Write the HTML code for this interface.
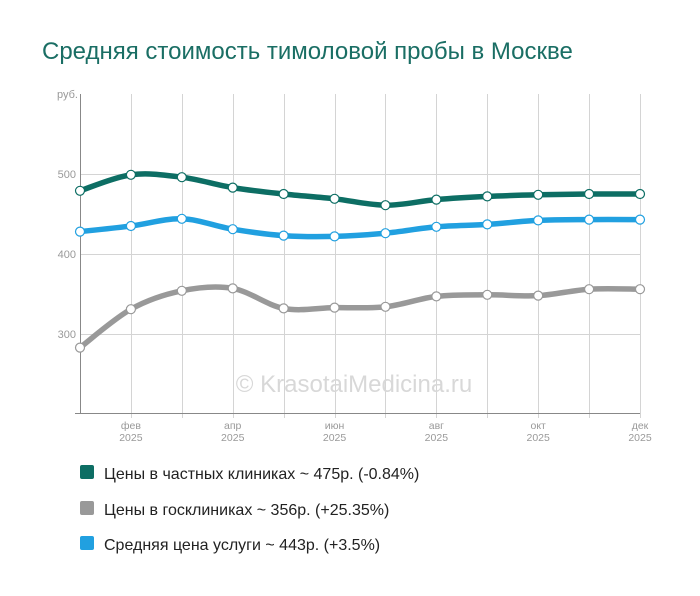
<!DOCTYPE html>
<html><head><meta charset="utf-8"><style>
body{margin:0;background:#fff;width:700px;height:591px;overflow:hidden;font-family:"Liberation Sans",sans-serif}
</style></head><body>
<svg id="s" width="700" height="591" xmlns="http://www.w3.org/2000/svg" font-family="Liberation Sans, sans-serif">
<text x="42" y="59" font-size="24" fill="#1a6e64">Средняя стоимость тимоловой пробы в Москве</text>
<g id="grid" stroke="#d4d4d4" stroke-width="1"></g>
<line x1="80.5" y1="94" x2="80.5" y2="414" stroke="#888"/>
<line x1="75" y1="413.5" x2="640" y2="413.5" stroke="#888"/>
<g font-size="11" fill="#999" text-anchor="end">
<text x="78" y="98">руб.</text>
<text x="76" y="178">500</text>
<text x="76" y="258">400</text>
<text x="76" y="338">300</text>
</g>
<g id="xl" font-size="10.5" fill="#999" text-anchor="middle"></g>
<text x="354" y="392" font-size="24" fill="#d8d8d8" text-anchor="middle">© KrasotaiMedicina.ru</text>
<g id="series"></g>
<rect x="80" y="465" width="14" height="14" fill="#0d6e64" rx="2"/>
<text x="104" y="479" font-size="16" fill="#222">Цены в частных клиниках ~ 475р. (-0.84%)</text>
<rect x="80" y="501" width="14" height="14" fill="#999" rx="2"/>
<text x="104" y="515" font-size="16" fill="#222">Цены в госклиниках ~ 356р. (+25.35%)</text>
<rect x="80" y="536" width="14" height="14" fill="#21a0e0" rx="2"/>
<text x="104" y="550" font-size="16" fill="#222">Средняя цена услуги ~ 443р. (+3.5%)</text>
</svg>
<script>
var NS="http://www.w3.org/2000/svg";
function el(p,t,a,txt){var e=document.createElementNS(NS,t);for(var k in a)e.setAttribute(k,a[k]);if(txt)e.textContent=txt;document.getElementById(p).appendChild(e);return e;}
var xs=[];for(var i=0;i<12;i++)xs.push(80+i*(560/11));
for(var i=1;i<12;i++)el("grid","line",{x1:Math.round(xs[i])+.5,y1:94,x2:Math.round(xs[i])+.5,y2:418});
[174,254,334].forEach(function(y){el("grid","line",{x1:80,y1:y+.5,x2:640,y2:y+.5});});
var m=["фев","апр","июн","авг","окт","дек"];
for(var j=0;j<6;j++){var x=xs[1+2*j];el("xl","text",{x:x,y:429},m[j]);el("xl","text",{x:x,y:441},"2025");}
function Y(v){return 174+(500-v)*0.8;}
var S=[["#999",[283,331,354,357,332,333,334,347,349,348,356,356]],
["#21a0e0",[428,435,444,431,423,422,426,434,437,442,443,443]],
["#0d6e64",[479,499,496,483,475,469,461,468,472,474,475,475]]];
S.forEach(function(s){var p=s[1].map(function(v,i){return [xs[i],Y(v)];});
var d="M"+p[0][0]+","+p[0][1];
for(var i=0;i<p.length-1;i++){var p0=p[i-1]||p[i],p1=p[i],p2=p[i+1],p3=p[i+2]||p2;
d+=" C"+(p1[0]+(p2[0]-p0[0])/6)+","+(p1[1]+(p2[1]-p0[1])/6)+" "+(p2[0]-(p3[0]-p1[0])/6)+","+(p2[1]-(p3[1]-p1[1])/6)+" "+p2[0]+","+p2[1];}
el("series","path",{d:d,fill:"none",stroke:s[0],"stroke-width":5.5,"stroke-linecap":"round"});
p.forEach(function(q){el("series","circle",{cx:q[0],cy:q[1],r:4.5,fill:"#fff",stroke:s[0],"stroke-width":1.2});});});
</script>
</body></html>
